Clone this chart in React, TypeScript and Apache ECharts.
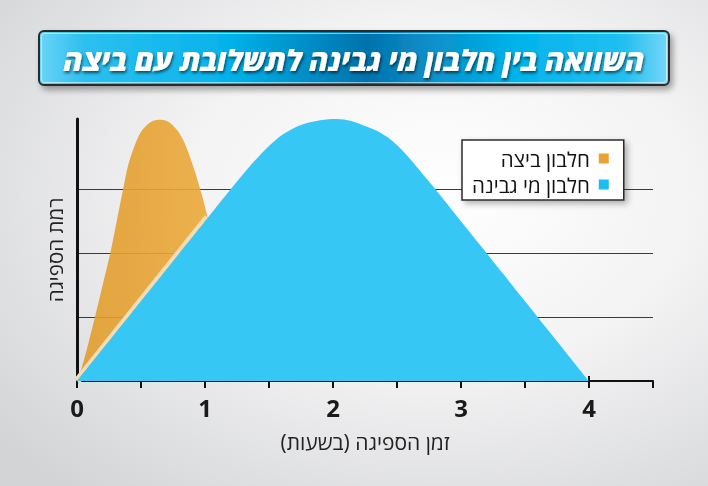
import React, { useEffect, useRef } from 'react';
import * as echarts from 'echarts';

// absorption time (hours) / absorption level
const wheyX = [0, 1.0, 1.2, 1.35, 1.48, 1.61, 1.74, 1.9, 2.03, 2.14, 2.24, 2.35, 2.45, 2.55, 2.65, 2.82, 3.0, 4.0];
const wheyY = [0, 2.5, 3.0, 3.36, 3.64, 3.86, 4.0, 4.08, 4.1, 4.07, 4.0, 3.91, 3.78, 3.59, 3.36, 2.95, 2.5, 0];

const eggX = [0, 0.04, 0.09, 0.14, 0.2, 0.26, 0.31, 0.36, 0.4, 0.45, 0.5, 0.56, 0.61, 0.66, 0.72, 0.78, 0.83, 0.88, 0.935, 0.98, 1.02];
const eggY = [0, 0.23, 0.6, 1.0, 1.5, 2.0, 2.5, 3.0, 3.38, 3.68, 3.9, 4.03, 4.08, 4.09, 4.05, 3.93, 3.77, 3.52, 3.19, 2.88, 2.57];

// light seam where the egg area meets the whey edge
const seamX = [0, 1.02];
const seamY = [0, 2.56];

const xLabels = [0, 1, 2, 3, 4];
const xMajor = [1, 2, 3, 4];

const seriesNames = ['חלבון ביצה', 'חלבון מי גבינה'];
const titleText = 'השוואה בין חלבון מי גבינה לתשלובת עם ביצה';
const xName = 'זמן הספיגה (בשעות)';
const yName = 'רמת הספיגה';

const zip = (xs: number[], ys: number[]) => xs.map((x, i) => [x, ys[i]]);

const FONT = '"Open Sans", "DejaVu Sans", sans-serif';

const App: React.FC = () => {
  const chartRef = useRef<HTMLDivElement>(null);

  useEffect(() => {
    if (!chartRef.current) return;
    const chart = echarts.init(chartRef.current, undefined, { renderer: 'svg' });

    const option: echarts.EChartsOption = {
      animation: false,
      backgroundColor: new echarts.graphic.RadialGradient(0.62, 0.4, 0.8, [
        { offset: 0, color: '#ffffff' },
        { offset: 0.45, color: '#f3f3f4' },
        { offset: 1, color: '#d3d4d6' },
      ]),
      grid: { left: 77, right: 55, top: 119, bottom: 105 },
      legend: {
        data: seriesNames.map((n) => ({ name: n, icon: 'rect' })),
        orient: 'vertical',
        align: 'right',
        left: 462,
        top: 140,
        itemWidth: 10,
        itemHeight: 10,
        itemGap: 5,
        padding: [8, 15, 5, 10],
        backgroundColor: '#ffffff',
        borderColor: '#2b2b2b',
        borderWidth: 1.5,
        shadowBlur: 6,
        shadowOffsetX: 3,
        shadowOffsetY: 3,
        shadowColor: 'rgba(0,0,0,0.3)',
        textStyle: { fontFamily: FONT, fontSize: 20.5, lineHeight: 20, color: '#111', padding: [0, 4, 0, 0] },
        selectedMode: false,
      },
      xAxis: [
        {
          type: 'value',
          min: 0,
          max: 4.5,
          interval: 0.5,
          name: xName,
          nameLocation: 'middle',
          nameGap: 50,
          nameTextStyle: { fontFamily: FONT, fontSize: 21, color: '#222' },
          axisLine: { lineStyle: { color: '#111', width: 2 } },
          axisTick: { length: 7, lineStyle: { color: '#111', width: 2 } },
          axisLabel: {
            customValues: xLabels,
            margin: 14,
            fontFamily: FONT,
            fontSize: 24,
            fontWeight: 'bold',
            color: '#1a1a1a',
          },
          splitLine: { show: false },
        },
        {
          type: 'value',
          min: 0,
          max: 4.5,
          position: 'bottom',
          axisLine: { show: false },
          axisTick: { customValues: xMajor, inside: true, length: 5, lineStyle: { color: '#111', width: 2 } },
          axisLabel: { show: false },
          splitLine: { show: false },
        },
      ],
      yAxis: {
        type: 'value',
        min: 0,
        max: 4.1,
        interval: 1,
        name: yName,
        nameLocation: 'middle',
        nameRotate: 90,
        nameGap: 12,
        nameTextStyle: { fontFamily: FONT, fontSize: 20.5, color: '#222' },
        axisLine: { show: true, lineStyle: { color: '#111', width: 3 } },
        axisTick: { show: false },
        axisLabel: { show: false },
        splitLine: {
          show: true,
          lineStyle: {
            color: ['#3a3a3a', '#3a3a3a', '#3a3a3a', '#3a3a3a', 'rgba(0,0,0,0)', 'rgba(0,0,0,0)'],
            width: 1,
          },
        },
      },
      series: [
        {
          name: seriesNames[0],
          type: 'line',
          z: 2,
          data: zip(eggX, eggY),
          smooth: 0.3,
          showSymbol: false,
          lineStyle: { width: 0 },
          itemStyle: { color: '#e6a232' },
          areaStyle: {
            opacity: 0.9,
            color: new echarts.graphic.LinearGradient(0, 0, 1, 0, [
              { offset: 0, color: '#e09c2c' },
              { offset: 1, color: '#eba93a' },
            ]),
          },
        },
        {
          name: 'seam',
          type: 'line',
          z: 3,
          data: zip(seamX, seamY),
          showSymbol: false,
          lineStyle: { width: 7, color: '#f6dcb3' },
          itemStyle: { color: '#f6dcb3' },
        },
        {
          name: seriesNames[1],
          type: 'line',
          z: 4,
          data: zip(wheyX, wheyY),
          smooth: 0.3,
          showSymbol: false,
          lineStyle: { width: 0 },
          itemStyle: { color: '#1cbef0' },
          areaStyle: { opacity: 1, color: '#37c7f4' },
        },
      ],
      graphic: [
        {
          type: 'group',
          left: 38,
          top: 30,
          children: [
            {
              type: 'rect',
              shape: { x: 0, y: 0, width: 630, height: 54, r: 5 },
              style: {
                fill: new echarts.graphic.LinearGradient(0, 0, 1, 0, [
                  { offset: 0, color: '#6cd4f6' },
                  { offset: 0.07, color: '#2dc0f0' },
                  { offset: 0.3, color: '#04b3eb' },
                  { offset: 0.52, color: '#0072ac' },
                  { offset: 0.6, color: '#0a8ac4' },
                  { offset: 0.76, color: '#00b4ec' },
                  { offset: 0.93, color: '#22bff1' },
                  { offset: 1, color: '#78d7f7' },
                ]),
                stroke: '#2a2a2a',
                lineWidth: 2,
                shadowBlur: 6,
                shadowOffsetX: 3,
                shadowOffsetY: 4,
                shadowColor: 'rgba(0,0,0,0.35)',
              },
            },
            {
              type: 'rect',
              shape: { x: 2.5, y: 2.5, width: 625, height: 49, r: 3 },
              style: { fill: 'none', stroke: 'rgba(255,255,255,0.55)', lineWidth: 1 },
            },
            {
              type: 'text',
              x: 315,
              y: 28,
              style: {
                text: titleText,
                align: 'center',
                verticalAlign: 'middle',
                fill: '#ffffff',
                font: 'italic 800 29px "Open Sans", "DejaVu Sans", sans-serif',
                textShadowColor: 'rgba(0,0,0,0.6)',
                textShadowBlur: 3,
                textShadowOffsetX: 1,
                textShadowOffsetY: 2,
              },
            },
          ],
        },
      ],
    };

    chart.setOption(option);
    return () => chart.dispose();
  }, []);

  return (
    <div
      ref={chartRef}
      style={{ position: 'fixed', left: 0, top: 0, width: 708, height: 486 }}
    />
  );
};

export default App;
